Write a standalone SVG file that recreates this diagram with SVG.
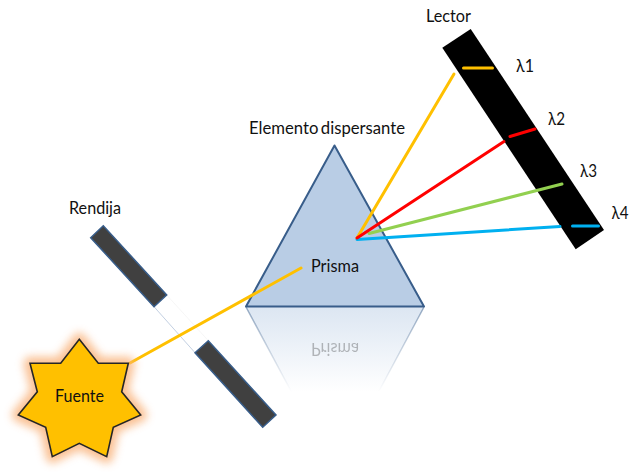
<svg xmlns="http://www.w3.org/2000/svg" width="640" height="476" viewBox="0 0 640 476">
  <style>
    text { font-family: "Lato", "Open Sans", "Liberation Sans", sans-serif; font-size: 18px; fill: #111; }
    .bar { fill: #404040; stroke: #385D8A; stroke-width: 1.5; }
    .ray { fill: none; stroke-width: 3; stroke-linecap: round; }
    .yellow { stroke: #FFC000; }
    .red { stroke: #FF0000; }
    .green { stroke: #92D050; }
    .blue { stroke: #00B0F0; }
  </style>
  <defs>
    <filter id="glow" x="-30%" y="-30%" width="160%" height="160%">
      <feGaussianBlur stdDeviation="4.500"/>
    </filter>
    <linearGradient id="fade" gradientUnits="userSpaceOnUse" x1="0" y1="307" x2="0" y2="392">
      <stop offset="0" stop-color="#B9CDE5" stop-opacity="0.5"/>
      <stop offset="1" stop-color="#B9CDE5" stop-opacity="0"/>
    </linearGradient>
    <linearGradient id="fadeEdge" gradientUnits="userSpaceOnUse" x1="0" y1="307" x2="0" y2="392">
      <stop offset="0" stop-color="#385D8A" stop-opacity="0.5"/>
      <stop offset="1" stop-color="#385D8A" stop-opacity="0"/>
    </linearGradient>
  </defs>

  <g id="prisma">
    <path d="M246 307L424 307L378.500 392L291.500 392Z" fill="url(#fade)"/>
    <path d="M246 307L291.500 392M424 307L378.500 392" fill="none" stroke="url(#fadeEdge)" stroke-width="1.500"/>
    <text x="311" y="271.700" textLength="48" lengthAdjust="spacingAndGlyphs" transform="translate(0,614.200) scale(1,-1)" opacity="0.28">Prisma</text>
    <path d="M334.500 145.500L424 306.500L246 306.500Z" fill="#B9CDE5" stroke="#385D8A" stroke-width="2" stroke-linejoin="round"/>
    <text x="311" y="271.700" textLength="48" lengthAdjust="spacingAndGlyphs">Prisma</text>
    <text x="249" y="134" textLength="156" lengthAdjust="spacingAndGlyphs" word-spacing="-2">Elemento dispersante</text>
  </g>

  <g id="rendija">
    <path d="M154 306.700L195 352.700L208.300 340.700L166.700 295Z" fill="#fff"/>
    <path d="M154 306.700L195 352.700" fill="none" stroke="#C3D0E2" stroke-width="1"/>
    <path d="M166.700 295L208.300 340.700" fill="none" stroke="#F2F2F2" stroke-width="0.700"/>
    <path class="bar" d="M103.300 225.700L90.700 237.700L154 306.700L166.700 295Z"/>
    <path class="bar" d="M208.300 340.700L195 352.700L262.700 427.300L276 415Z"/>
    <text x="69" y="214" textLength="52" lengthAdjust="spacingAndGlyphs">Rendija</text>
  </g>

  <g id="lector">
    <path d="M470.700 29L442.300 47.700L575.700 249.300L604 230Z" fill="#000"/>
    <text x="426" y="21.700" textLength="45" lengthAdjust="spacingAndGlyphs">Lector</text>
    <text x="516" y="71.700" textLength="18" lengthAdjust="spacingAndGlyphs">λ1</text>
    <text x="548" y="125" textLength="17" lengthAdjust="spacingAndGlyphs">λ2</text>
    <text x="580" y="176.700" textLength="17" lengthAdjust="spacingAndGlyphs">λ3</text>
    <text x="611.500" y="219" textLength="17" lengthAdjust="spacingAndGlyphs">λ4</text>
  </g>

  <g id="connectors">
    <path class="ray yellow" d="M130 363L301 268"/>
    <path class="ray green" d="M369 233.500L562 184"/>
    <path class="ray yellow" d="M357 238L454 74"/>
    <path class="ray blue" d="M357 239.500L560 226.500"/>
    <path class="ray red" d="M357 238L504 141.500"/>
    <path class="ray yellow" d="M463.500 68L492.500 68"/>
    <path class="ray red" d="M510 136.500L535 129"/>
    <path class="ray blue" d="M572.500 226L598.500 226"/>
  </g>

  <g id="fuente">
    <path d="M79.300 339.300L98.300 363.300L128.300 363.300L121.700 391.700L140.700 415L113.300 427.300L106.700 456.700L79.300 443.300L52.300 456.700L45.700 427.300L18.300 415L37.300 391.700L30 363.300L60.700 363.300Z" fill="#F9B27A" stroke="#F9B27A" stroke-width="13" stroke-linejoin="round" opacity="0.8" filter="url(#glow)"/>
    <path d="M79.300 339.300L98.300 363.300L128.300 363.300L121.700 391.700L140.700 415L113.300 427.300L106.700 456.700L79.300 443.300L52.300 456.700L45.700 427.300L18.300 415L37.300 391.700L30 363.300L60.700 363.300Z" fill="#FFC000" stroke="#262626" stroke-width="1.600" stroke-linejoin="miter"/>
    <text x="55" y="401.700" textLength="49" lengthAdjust="spacingAndGlyphs">Fuente</text>
  </g>
</svg>
